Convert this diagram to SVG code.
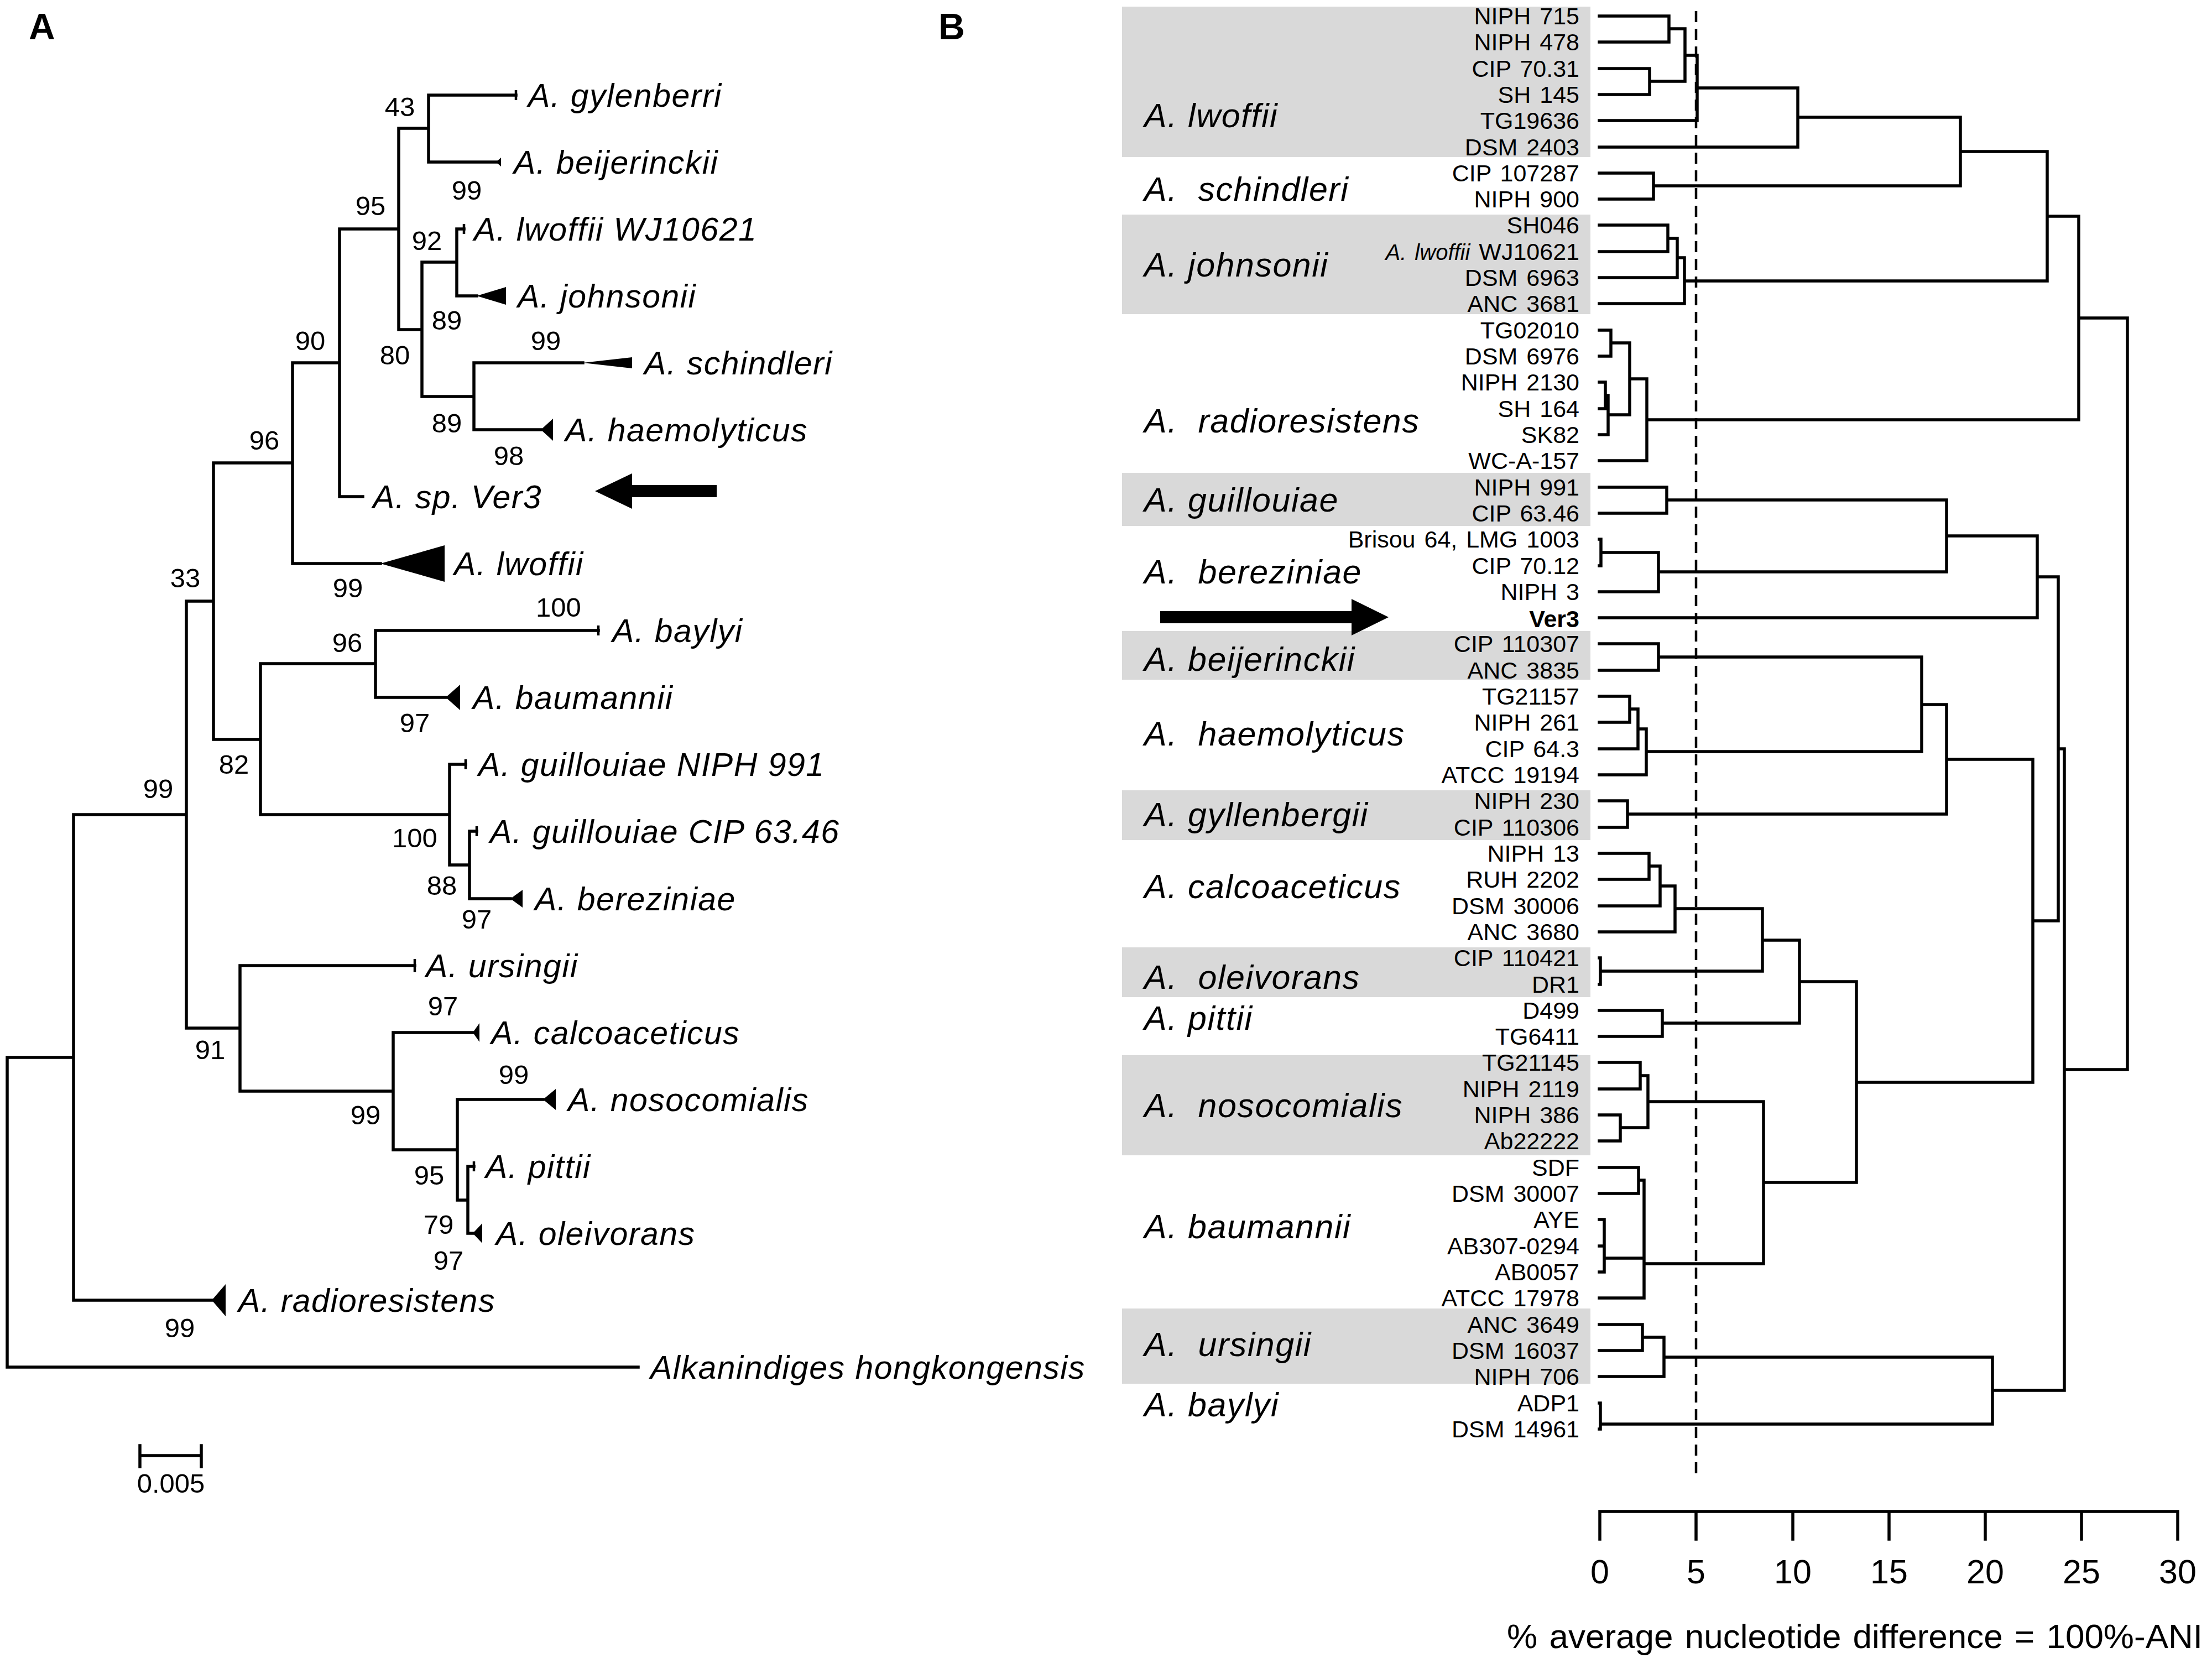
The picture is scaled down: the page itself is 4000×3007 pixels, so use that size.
<svg xmlns="http://www.w3.org/2000/svg" width="4000" height="3007" viewBox="0 0 4000 3007">
<style>
text{font-family:"Liberation Sans",Arial,Helvetica,sans-serif;fill:#000}
.ln{fill:none;stroke:#000;stroke-width:5.5;stroke-linecap:square}
.tk{fill:none;stroke:#000;stroke-width:4.5}
.tri{fill:#000}
.panel{font-size:66px;font-weight:bold}
.lab{font-size:59px;font-style:italic;letter-spacing:1.5px}
.bs{font-size:49px;text-anchor:middle}
.grp{font-size:61px;font-style:italic;letter-spacing:1.5px}
.leaf{font-size:43px;text-anchor:end;word-spacing:4px}
.box{fill:#d9d9d9}
.dash{fill:none;stroke:#000;stroke-width:4.5;stroke-dasharray:20 12}
.axl{font-size:61px;text-anchor:middle}
</style>
<rect width="4000" height="3007" fill="#fff"/>
<text class="panel" x="52" y="71">A</text>
<text class="panel" x="1697" y="71">B</text>

<!-- Panel A connectors -->
<g id="A-connectors">
<path class="ln" d="M13 1912V2472M13 1912H133M13 2472H1154
M133 1473V2351M133 1473H337M133 2351H383
M337 1087V1859M337 1087H386M337 1859H434
M386 837V1337M386 837H529M386 1337H471
M529 656V1019M529 656H614M529 1019H688
M614 414V898M614 414H721M614 898H656
M721 232V596M721 232H775M721 596H763
M775 172V293M775 172H933M775 293H898
M763 474V717M763 474H826M763 717H857
M826 414V535M826 414H839M826 535H862
M857 656V777M857 656H1054M857 777H978
M471 1200V1473M471 1200H679M471 1473H813
M679 1140V1261M679 1140H1082M679 1261H806
M813 1382V1564M813 1382H842M813 1564H849
M849 1503V1625M849 1503H862M849 1625H923
M434 1746V1973M434 1746H750M434 1973H711
M711 1867V2079M711 1867H855M711 2079H827
M827 1988V2170M827 1988H982M827 2170H846
M846 2109V2230M846 2109H857M846 2230H855"/>
</g>

<!-- Panel A leaves -->
<g id="A-gylenberri"><path class="tk" d="M933 163V181"/><text class="lab" x="955" y="193">A. gylenberri</text></g>
<g id="A-beijerinckii"><polygon class="tri" points="897,293 906,285 906,301"/><text class="lab" x="929" y="314">A. beijerinckii</text></g>
<g id="A-lwoffii-WJ10621"><path class="tk" d="M839 405V423"/><text class="lab" x="857" y="435">A. lwoffii WJ10621</text></g>
<g id="A-johnsonii"><polygon class="tri" points="862,535 915,519 915,551"/><text class="lab" x="936" y="556">A. johnsonii</text></g>
<g id="A-schindleri"><polygon class="tri" points="1054,656 1143,646 1143,666"/><text class="lab" x="1165" y="677">A. schindleri</text></g>
<g id="A-haemolyticus"><polygon class="tri" points="978,777 1000,757 1000,797"/><text class="lab" x="1022" y="798">A. haemolyticus</text></g>
<g id="A-Ver3"><text class="lab" x="674" y="919">A. sp. Ver3</text><polygon class="tri" points="1076,888 1143,856 1143,877 1296,877 1296,899 1143,899 1143,920"/></g>
<g id="A-lwoffii"><polygon class="tri" points="688,1019 804,986 804,1052"/><text class="lab" x="821" y="1040">A. lwoffii</text></g>
<g id="A-baylyi"><path class="tk" d="M1082 1131V1149"/><text class="lab" x="1107" y="1161">A. baylyi</text></g>
<g id="A-baumannii"><polygon class="tri" points="806,1261 832,1238 832,1284"/><text class="lab" x="855" y="1282">A. baumannii</text></g>
<g id="A-guillouiae-NIPH991"><path class="tk" d="M842 1373V1391"/><text class="lab" x="865" y="1403">A. guillouiae NIPH 991</text></g>
<g id="A-guillouiae-CIP6346"><path class="tk" d="M862 1494V1512"/><text class="lab" x="886" y="1524">A. guillouiae CIP 63.46</text></g>
<g id="A-bereziniae"><polygon class="tri" points="923,1625 945,1609 945,1641"/><text class="lab" x="967" y="1646">A. bereziniae</text></g>
<g id="A-ursingii"><path class="tk" d="M750 1734V1758"/><text class="lab" x="770" y="1767">A. ursingii</text></g>
<g id="A-calcoaceticus"><polygon class="tri" points="855,1867 867,1850 867,1884"/><text class="lab" x="888" y="1888">A. calcoaceticus</text></g>
<g id="A-nosocomialis"><polygon class="tri" points="982,1988 1005,1969 1005,2007"/><text class="lab" x="1027" y="2009">A. nosocomialis</text></g>
<g id="A-pittii"><path class="tk" d="M857 2100V2118"/><text class="lab" x="878" y="2130">A. pittii</text></g>
<g id="A-oleivorans"><polygon class="tri" points="855,2230 872,2212 872,2248"/><text class="lab" x="897" y="2251">A. oleivorans</text></g>
<g id="A-radioresistens"><polygon class="tri" points="383,2351 408,2322 408,2380"/><text class="lab" x="431" y="2372">A. radioresistens</text></g>
<g id="A-Alkanindiges"><text class="lab" x="1176" y="2493">Alkanindiges hongkongensis</text></g>

<!-- bootstrap values -->
<g id="A-support">
<text class="bs" x="723" y="210">43</text>
<text class="bs" x="844" y="361">99</text>
<text class="bs" x="670" y="389">95</text>
<text class="bs" x="772" y="452">92</text>
<text class="bs" x="808" y="596">89</text>
<text class="bs" x="714" y="659">80</text>
<text class="bs" x="987" y="633">99</text>
<text class="bs" x="808" y="782">89</text>
<text class="bs" x="920" y="841">98</text>
<text class="bs" x="561" y="633">90</text>
<text class="bs" x="478" y="813">96</text>
<text class="bs" x="629" y="1080">99</text>
<text class="bs" x="335" y="1062">33</text>
<text class="bs" x="1010" y="1115">100</text>
<text class="bs" x="628" y="1179">96</text>
<text class="bs" x="750" y="1324">97</text>
<text class="bs" x="423" y="1399">82</text>
<text class="bs" x="286" y="1443">99</text>
<text class="bs" x="750" y="1532">100</text>
<text class="bs" x="799" y="1618">88</text>
<text class="bs" x="862" y="1679">97</text>
<text class="bs" x="801" y="1836">97</text>
<text class="bs" x="380" y="1915">91</text>
<text class="bs" x="929" y="1960">99</text>
<text class="bs" x="661" y="2033">99</text>
<text class="bs" x="776" y="2142">95</text>
<text class="bs" x="793" y="2231">79</text>
<text class="bs" x="811" y="2296">97</text>
<text class="bs" x="325" y="2418">99</text>
</g>

<g id="A-scalebar">
<path class="ln" d="M253 2632H364M253 2614V2652M364 2614V2652"/>
<text class="bs" x="309" y="2699">0.005</text>
</g>

<!-- Panel B group boxes and labels -->
<g id="B-groups">
<rect class="box" x="2029" y="12" width="847" height="272"/>
<rect class="box" x="2029" y="388" width="847" height="180"/>
<rect class="box" x="2029" y="855" width="847" height="96"/>
<rect class="box" x="2029" y="1141" width="847" height="88"/>
<rect class="box" x="2029" y="1429" width="847" height="90"/>
<rect class="box" x="2029" y="1713" width="847" height="90"/>
<rect class="box" x="2029" y="1908" width="847" height="181"/>
<rect class="box" x="2029" y="2366" width="847" height="136"/>
<g id="B-g-lwoffii"><text class="grp" x="2069" y="230">A. lwoffii</text></g>
<g id="B-g-schindleri"><text class="grp" x="2069" y="363" xml:space="preserve">A.  schindleri</text></g>
<g id="B-g-johnsonii"><text class="grp" x="2069" y="500">A. johnsonii</text></g>
<g id="B-g-radioresistens"><text class="grp" x="2069" y="782" xml:space="preserve">A.  radioresistens</text></g>
<g id="B-g-guillouiae"><text class="grp" x="2069" y="925">A. guillouiae</text></g>
<g id="B-g-bereziniae"><text class="grp" x="2069" y="1055" xml:space="preserve">A.  bereziniae</text></g>
<g id="B-g-beijerinckii"><text class="grp" x="2069" y="1213">A. beijerinckii</text></g>
<g id="B-g-haemolyticus"><text class="grp" x="2069" y="1348" xml:space="preserve">A.  haemolyticus</text></g>
<g id="B-g-gyllenbergii"><text class="grp" x="2069" y="1494">A. gyllenbergii</text></g>
<g id="B-g-calcoaceticus"><text class="grp" x="2069" y="1624">A. calcoaceticus</text></g>
<g id="B-g-oleivorans"><text class="grp" x="2069" y="1788" xml:space="preserve">A.  oleivorans</text></g>
<g id="B-g-pittii"><text class="grp" x="2069" y="1862">A. pittii</text></g>
<g id="B-g-nosocomialis"><text class="grp" x="2069" y="2020" xml:space="preserve">A.  nosocomialis</text></g>
<g id="B-g-baumannii"><text class="grp" x="2069" y="2239">A. baumannii</text></g>
<g id="B-g-ursingii"><text class="grp" x="2069" y="2452" xml:space="preserve">A.  ursingii</text></g>
<g id="B-g-baylyi"><text class="grp" x="2069" y="2561">A. baylyi</text></g>
</g>

<g id="B-arrow"><polygon class="tri" points="2098,1105 2444,1105 2444,1083 2511,1116 2444,1149 2444,1127 2098,1127"/></g>

<!-- Panel B strain labels -->
<g id="B-strains">
<text class="leaf" x="2856" y="44">NIPH 715</text>
<text class="leaf" x="2856" y="91">NIPH 478</text>
<text class="leaf" x="2856" y="139">CIP 70.31</text>
<text class="leaf" x="2856" y="186">SH 145</text>
<text class="leaf" x="2856" y="233">TG19636</text>
<text class="leaf" x="2856" y="281">DSM 2403</text>
<text class="leaf" x="2856" y="328">CIP 107287</text>
<text class="leaf" x="2856" y="375">NIPH 900</text>
<text class="leaf" x="2856" y="422">SH046</text>
<text class="leaf" x="2856" y="470"><tspan font-style="italic" font-size="40">A. lwoffii</tspan> WJ10621</text>
<text class="leaf" x="2856" y="517">DSM 6963</text>
<text class="leaf" x="2856" y="564">ANC 3681</text>
<text class="leaf" x="2856" y="612">TG02010</text>
<text class="leaf" x="2856" y="659">DSM 6976</text>
<text class="leaf" x="2856" y="706">NIPH 2130</text>
<text class="leaf" x="2856" y="754">SH 164</text>
<text class="leaf" x="2856" y="801">SK82</text>
<text class="leaf" x="2856" y="848">WC-A-157</text>
<text class="leaf" x="2856" y="896">NIPH 991</text>
<text class="leaf" x="2856" y="943">CIP 63.46</text>
<text class="leaf" x="2856" y="990">Brisou 64, LMG 1003</text>
<text class="leaf" x="2856" y="1038">CIP 70.12</text>
<text class="leaf" x="2856" y="1085">NIPH 3</text>
<text class="leaf" x="2856" y="1134" font-weight="bold" font-size="49">Ver3</text>
<text class="leaf" x="2856" y="1179">CIP 110307</text>
<text class="leaf" x="2856" y="1227">ANC 3835</text>
<text class="leaf" x="2856" y="1274">TG21157</text>
<text class="leaf" x="2856" y="1321">NIPH 261</text>
<text class="leaf" x="2856" y="1369">CIP 64.3</text>
<text class="leaf" x="2856" y="1416">ATCC 19194</text>
<text class="leaf" x="2856" y="1463">NIPH 230</text>
<text class="leaf" x="2856" y="1511">CIP 110306</text>
<text class="leaf" x="2856" y="1558">NIPH 13</text>
<text class="leaf" x="2856" y="1605">RUH 2202</text>
<text class="leaf" x="2856" y="1653">DSM 30006</text>
<text class="leaf" x="2856" y="1700">ANC 3680</text>
<text class="leaf" x="2856" y="1747">CIP 110421</text>
<text class="leaf" x="2856" y="1795">DR1</text>
<text class="leaf" x="2856" y="1842">D499</text>
<text class="leaf" x="2856" y="1889">TG6411</text>
<text class="leaf" x="2856" y="1936">TG21145</text>
<text class="leaf" x="2856" y="1984">NIPH 2119</text>
<text class="leaf" x="2856" y="2031">NIPH 386</text>
<text class="leaf" x="2856" y="2078">Ab22222</text>
<text class="leaf" x="2856" y="2126">SDF</text>
<text class="leaf" x="2856" y="2173">DSM 30007</text>
<text class="leaf" x="2856" y="2220">AYE</text>
<text class="leaf" x="2856" y="2268">AB307-0294</text>
<text class="leaf" x="2856" y="2315">AB0057</text>
<text class="leaf" x="2856" y="2362">ATCC 17978</text>
<text class="leaf" x="2856" y="2410">ANC 3649</text>
<text class="leaf" x="2856" y="2457">DSM 16037</text>
<text class="leaf" x="2856" y="2504">NIPH 706</text>
<text class="leaf" x="2856" y="2552">ADP1</text>
<text class="leaf" x="2856" y="2599">DSM 14961</text>
</g>

<!-- Panel B dendrogram connectors -->
<g id="B-connectors">
<path class="ln" d="M2892 29H3018M2892 76H3018M2892 124H2983M2892 171H2983M2892 218H3069M2892 266H3251
M2892 313H2990M2892 360H2990M2892 407H3016M2892 455H3016M2892 502H3033M2892 549H3046
M2892 597H2913M2892 644H2913M2892 691H2903M2892 739H2903M2892 786H2908M2892 833H2978
M2892 881H3014M2892 928H3014M2892 975H2895M2892 1023H2895M2892 1070H2999M2892 1117H3684
M2892 1164H2999M2892 1212H2999M2892 1259H2947M2892 1306H2947M2892 1354H2962M2892 1401H2977
M2892 1448H2943M2892 1496H2943M2892 1543H2982M2892 1590H2982M2892 1638H3002M2892 1685H3029
M2892 1732H2894M2892 1780H2894M2892 1827H3006M2892 1874H3006
M2892 1921H2966M2892 1969H2966M2892 2016H2930M2892 2063H2930
M2892 2111H2963M2892 2158H2963M2892 2205H2901M2892 2253H2901M2892 2300H2901M2892 2347H2973
M2892 2395H2970M2892 2442H2970M2892 2489H3009M2892 2537H2894M2892 2584H2894
M3018 29V76M3018 52H3047M2983 124V171M2983 147H3047M3047 52V147M3047 100H3069
M3069 100V218M3069 159H3251M3251 159V266M3251 212H3545M2990 313V360M2990 336H3545
M3545 212V336M3545 274H3702M3016 407V455M3016 431H3033M3033 431V502M3033 466H3046
M3046 466V549M3046 508H3702M3702 274V508M3702 391H3759
M2913 597V644M2913 620H2947M2903 691V739M2903 715H2908M2908 715V786M2908 750H2947
M2947 620V750M2947 685H2978M2978 685V833M2978 759H3759M3759 391V759M3759 575H3847
M3014 881V928M3014 904H3520M2895 975V1023M2895 999H2999M2999 999V1070M2999 1034H3520
M3520 904V1034M3520 969H3684M3684 969V1117M3684 1043H3722
M2999 1164V1212M2999 1188H3475M2947 1259V1306M2947 1282H2962M2962 1282V1354M2962 1318H2977
M2977 1318V1401M2977 1359H3475M3475 1188V1359M3475 1274H3520
M2943 1448V1496M2943 1472H3520M3520 1274V1472M3520 1373H3676
M2982 1543V1590M2982 1566H3002M3002 1566V1638M3002 1602H3029M3029 1602V1685M3029 1643H3187
M2894 1732V1780M2894 1756H3187M3187 1643V1756M3187 1700H3254
M3006 1827V1874M3006 1850H3254M3254 1700V1850M3254 1775H3357
M2966 1921V1969M2966 1945H2980M2930 2016V2063M2930 2039H2980M2980 1945V2039M2980 1992H3189
M2963 2111V2158M2963 2134H2973M2901 2205V2300M2901 2275H2973M2973 2134V2347M2973 2285H3189
M3189 1992V2285M3189 2138H3357M3357 1775V2138M3357 1957H3676
M3676 1373V1957M3676 1665H3722M3722 1043V1665M3722 1354H3733
M2970 2395V2442M2970 2418H3009M3009 2418V2489M3009 2454H3603
M2894 2537V2584M2894 2575H3603M3603 2454V2575M3603 2514H3733
M3733 1354V2514M3733 1934H3847M3847 575V1934"/>
</g>

<g id="B-threshold"><path class="dash" d="M3067 20V2665"/></g>

<g id="B-axis">
<path class="ln" d="M2893 2733H3938M2893 2733V2783M3067 2733V2783M3242 2733V2783M3416 2733V2783M3590 2733V2783M3764 2733V2783M3938 2733V2783"/>
<text class="axl" x="2893" y="2863">0</text>
<text class="axl" x="3067" y="2863">5</text>
<text class="axl" x="3242" y="2863">10</text>
<text class="axl" x="3416" y="2863">15</text>
<text class="axl" x="3590" y="2863">20</text>
<text class="axl" x="3764" y="2863">25</text>
<text class="axl" x="3938" y="2863">30</text>
<text x="3983" y="2980" font-size="62" text-anchor="end" word-spacing="4">% average nucleotide difference = 100%-ANI</text>
</g>
</svg>
